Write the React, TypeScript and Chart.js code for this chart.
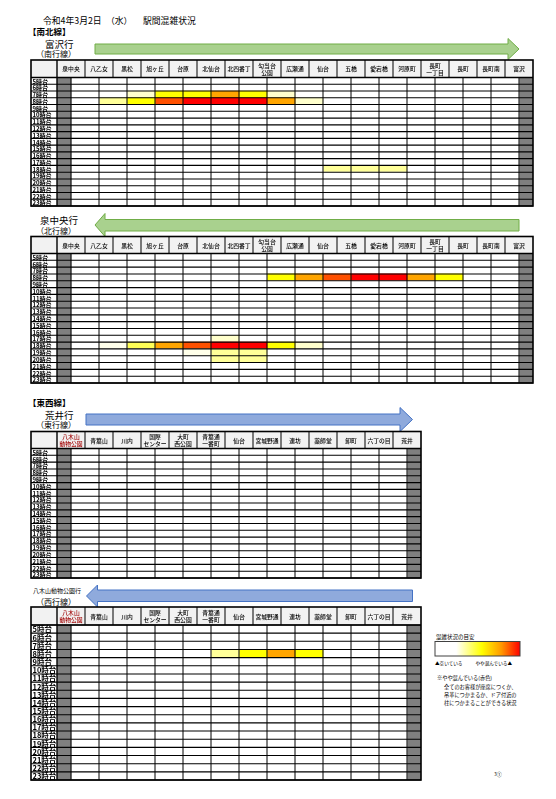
import React, { useEffect, useRef } from 'react';
import { Chart, registerables } from 'chart.js';
Chart.register(...registerables);

const FONT = '"Noto Sans CJK JP", "Noto Sans", sans-serif';

const HOURS = ['5時台','6時台','7時台','8時台','9時台','10時台','11時台','12時台','13時台','14時台','15時台','16時台','17時台','18時台','19時台','20時台','21時台','22時台','23時台'];

const NS_STATIONS = ['泉中央','八乙女','黒松','旭ヶ丘','台原','北仙台','北四番丁','勾当台\n公園','広瀬通','仙台','五橋','愛宕橋','河原町','長町\n一丁目','長町','長町南','富沢'];
const TZ_STATIONS = ['八木山\n動物公園','青葉山','川内','国際\nセンター','大町\n西公園','青葉通\n一番町','仙台','宮城野通','連坊','薬師堂','卸町','六丁の目','荒井'];

// congestion level -> colour (0 = empty, 8 = most crowded)
const PALETTE = ['#FFFFFF','#FFFFEA','#FFFFCC','#FFFF99','#FFFF55','#FFFF00','#FFA500','#FF5000','#FF0000'];

// 南北線 富沢行（南行線）: level per station interval
const SOUTH_HOURS = ['7時台','8時台','18時台'];
const SOUTH_7 = [0,0,2,5,5,6,5,2,0,0,0,0,0,0,0,0];
const SOUTH_8 = [0,3,5,7,8,8,8,6,2,0,0,0,0,0,0,0];
const SOUTH_18 = [0,0,0,0,0,0,0,0,0,3,3,3,0,0,0,0];

// 南北線 泉中央行（北行線）
const NORTH_HOURS = ['8時台','17時台','18時台','19時台','20時台'];
const NORTH_8 = [0,0,0,0,0,0,0,5,6,7,8,8,6,5,0,0];
const NORTH_17 = [0,0,0,0,0,2,0,0,0,0,0,0,0,0,0,0];
const NORTH_18 = [0,1,4,6,7,8,8,5,2,0,0,0,0,0,0,0];
const NORTH_19 = [0,0,0,0,1,3,3,0,0,0,0,0,0,0,0,0];
const NORTH_20 = [0,0,0,0,0,3,3,0,0,0,0,0,0,0,0,0];

// 東西線 荒井行（東行線）
const EAST_HOURS: string[] = [];

// 東西線 八木山動物公園行（西行線）
const WEST_HOURS = ['8時台'];
const WEST_8 = [0,0,0,0,0,3,5,6,5,0,0,0];

function buildLevels(nIntervals: number, hours: string[], rows: number[][]) {
  return HOURS.map((h) => {
    const k = hours.indexOf(h);
    return k >= 0 ? rows[k] : new Array(nIntervals).fill(0);
  });
}

const COL = 28;
const LABEL = 26;
const TABLE_LEFT = 31;

type TableProps = {
  top: number;
  headerBottom: number;
  bottom: number;
  stations: string[];
  levels: number[][];
  hourFont: number;
  firstStationColor?: string;
};

function HeatTable(p: TableProps) {
  const ref = useRef<HTMLCanvasElement>(null);
  const n = p.stations.length;
  const canvasLeft = TABLE_LEFT - 2;
  const canvasTop = Math.floor(p.top) - 2;
  const width = 2 + LABEL + COL * n + 3;
  const height = Math.ceil(p.bottom) + 3 - canvasTop;
  const padTop = p.headerBottom - canvasTop;
  const padBottom = canvasTop + height - p.bottom;
  const headerH = p.headerBottom - p.top;

  useEffect(() => {
    const canvas = ref.current!;
    const datasets: any[] = [];
    const common = { grouped: false, barPercentage: 1, categoryPercentage: 1, borderWidth: 0, borderSkipped: false };
    datasets.push({ ...common, data: HOURS.map(() => [0, 0.5]), backgroundColor: '#7F7F7F' });
    for (let i = 0; i < n - 1; i++) {
      datasets.push({
        ...common,
        data: HOURS.map(() => [i + 0.5, i + 1.5]),
        backgroundColor: p.levels.map((r) => PALETTE[r[i]]),
      });
    }
    datasets.push({ ...common, data: HOURS.map(() => [n - 0.5, n]), backgroundColor: '#7F7F7F' });

    const plugin = {
      id: 'tableGrid',
      beforeDatasetsDraw(chart: any) {
        const ctx = chart.ctx;
        const a = chart.chartArea;
        const tl = a.left - LABEL;
        const ht = a.top - headerH;
        ctx.save();
        ctx.fillStyle = '#F2F2F2';
        ctx.fillRect(tl, ht, a.right - tl, headerH);
        ctx.restore();
      },
      afterDatasetsDraw(chart: any) {
        const ctx = chart.ctx;
        const xs = chart.scales.x;
        const ys = chart.scales.y;
        const a = chart.chartArea;
        const tl = a.left - LABEL;
        const ht = a.top - headerH;
        const half = (ys.getPixelForValue(1) - ys.getPixelForValue(0)) / 2;
        const line = (x1: number, y1: number, x2: number, y2: number) => {
          ctx.beginPath();
          ctx.moveTo(x1, y1);
          ctx.lineTo(x2, y2);
          ctx.stroke();
        };
        ctx.save();
        ctx.strokeStyle = '#000';
        ctx.lineWidth = 1.1;
        for (let k = 0; k <= HOURS.length; k++) {
          const y = k < HOURS.length ? ys.getPixelForValue(k) - half : ys.getPixelForValue(k - 1) + half;
          line(tl, y, a.right, y);
        }
        ctx.lineWidth = 1;
        for (let j = 0; j < n; j++) {
          const x = xs.getPixelForValue(j + 0.5);
          line(x, a.top, x, a.bottom);
        }
        for (let j = 1; j < n; j++) {
          const x = xs.getPixelForValue(j);
          line(x, ht, x, a.top);
        }
        ctx.lineWidth = 1.4;
        const x0 = xs.getPixelForValue(0);
        line(x0, ht, x0, a.bottom);
        line(tl, a.top, a.right, a.top);
        ctx.lineWidth = 1.6;
        ctx.strokeRect(tl, ht, xs.getPixelForValue(n) - tl, a.bottom - ht);

        ctx.textAlign = 'center';
        ctx.textBaseline = 'middle';
        ctx.font = `500 5.8px ${FONT}`;
        const hc = ht + headerH / 2;
        p.stations.forEach((s, j) => {
          const x = xs.getPixelForValue(j + 0.5);
          const parts = s.split('\n');
          ctx.fillStyle = j === 0 && p.firstStationColor ? p.firstStationColor : '#000';
          if (parts.length === 1) {
            ctx.fillText(parts[0], x, hc + 0.5);
          } else {
            ctx.fillText(parts[0], x, hc - 3);
            ctx.fillText(parts[1], x, hc + 4);
          }
        });
        ctx.textAlign = 'left';
        ctx.fillStyle = '#000';
        ctx.font = `bold ${p.hourFont}px ${FONT}`;
        HOURS.forEach((h, i) => {
          ctx.fillText(h, tl + 1.5, ys.getPixelForValue(i) + 0.5);
        });
        ctx.restore();
      },
    };

    const chart = new Chart(canvas, {
      type: 'bar',
      data: { labels: HOURS, datasets },
      options: {
        indexAxis: 'y',
        responsive: false,
        maintainAspectRatio: false,
        animation: false,
        devicePixelRatio: 1,
        layout: { padding: { left: 2 + LABEL, right: 3, top: padTop, bottom: padBottom } },
        plugins: { legend: { display: false }, tooltip: { enabled: false }, title: { display: false } },
        scales: {
          x: { type: 'linear', min: 0, max: n, display: false },
          y: { type: 'category', offset: true, display: false },
        },
      } as any,
      plugins: [plugin],
    });
    return () => chart.destroy();
  }, []);

  return (
    <canvas
      ref={ref}
      width={width}
      height={height}
      style={{ position: 'absolute', left: canvasLeft, top: canvasTop, width, height }}
    />
  );
}

function T(props: { x: number; y: number; s: number; w?: number; fill?: string; anchor?: string; children: React.ReactNode }) {
  return (
    <text
      x={props.x}
      y={props.y}
      fontSize={props.s}
      fontWeight={props.w || 400}
      fill={props.fill || '#000'}
      fontFamily={FONT}
      dominantBaseline="central"
      textAnchor={props.anchor || 'start'}
    >
      {props.children}
    </text>
  );
}

export default function App() {
  const southLevels = buildLevels(16, SOUTH_HOURS, [SOUTH_7, SOUTH_8, SOUTH_18]);
  const northLevels = buildLevels(16, NORTH_HOURS, [NORTH_8, NORTH_17, NORTH_18, NORTH_19, NORTH_20]);
  const eastLevels = buildLevels(12, EAST_HOURS, []);
  const westLevels = buildLevels(12, WEST_HOURS, [WEST_8]);

  return (
    <div style={{ position: 'absolute', left: 0, top: 0, width: 556, height: 799, background: '#fff', overflow: 'hidden' }}>
      <svg width={556} height={799} style={{ position: 'absolute', left: 0, top: 0 }}>
        <defs>
          <linearGradient id="cong" x1="0" x2="1" y1="0" y2="0">
            <stop offset="0" stopColor="#FFFFFF" />
            <stop offset="0.25" stopColor="#FFFFFF" />
            <stop offset="0.55" stopColor="#FFFF00" />
            <stop offset="0.78" stopColor="#FF9900" />
            <stop offset="1" stopColor="#FF0000" />
          </linearGradient>
        </defs>
        <T x={43} y={20} s={8.8}>令和4年3月2日</T>
        <T x={106} y={20} s={8.8}>（水）</T>
        <T x={143} y={20} s={8.8}>駅間混雑状況</T>

        <T x={28} y={31} s={8.5} w={700}>【南北線】</T>
        <T x={45} y={43.5} s={9.5}>富沢行</T>
        <T x={36} y={53} s={8}>（南行線）</T>
        <path d="M95,44 L508,44 L508,38.5 L519,49 L508,59.5 L508,54 L95,54 Z" fill="#A9D18E" stroke="#70AD47" strokeWidth={1} />

        <T x={40} y={220} s={9.5}>泉中央行</T>
        <T x={36} y={230} s={8}>（北行線）</T>
        <path d="M95,225 L105,213.5 L105,219.5 L519,219.5 L519,231 L105,231 L105,236.5 Z" fill="#A9D18E" stroke="#70AD47" strokeWidth={1} />

        <T x={28} y={401.5} s={8.5} w={700}>【東西線】</T>
        <T x={45} y={415} s={9.5}>荒井行</T>
        <T x={36} y={424.5} s={8}>（東行線）</T>
        <path d="M86,414 L400,414 L400,407.5 L412.5,419.5 L400,431.5 L400,425 L86,425 Z" fill="#8FAADC" stroke="#4472C4" strokeWidth={1} />

        <T x={33} y={590.5} s={6}>八木山動物公園行</T>
        <T x={36} y={601} s={8}>（西行線）</T>
        <path d="M86.5,596 L97.5,585 L97.5,590 L412.5,590 L412.5,601.5 L97.5,601.5 L97.5,607 Z" fill="#8FAADC" stroke="#4472C4" strokeWidth={1} />

        <T x={436} y={636.5} s={5.5}>混雑状況の目安</T>
        <rect x={435} y={641.5} width={85} height={14.5} fill="url(#cong)" stroke="#404040" strokeWidth={1} />
        <T x={435} y={663} s={4.6}>▲空いている</T>
        <T x={512} y={663} s={4.6} anchor="end">やや混んでいる▲</T>
        <T x={437} y={677.5} s={5.2}>※やや混んでいる(赤色)</T>
        <T x={444} y={686} s={5.2}>全てのお客様が座席につくか、</T>
        <T x={444} y={694} s={5.2}>吊革につかまるか、ドア付近の</T>
        <T x={444} y={702} s={5.2}>柱につかまることができる状況</T>

        <T x={494} y={773} s={5}>3①</T>
      </svg>

      <HeatTable top={60} headerBottom={77.5} bottom={206} stations={NS_STATIONS} levels={southLevels} hourFont={6} />
      <HeatTable top={236.5} headerBottom={253.5} bottom={383} stations={NS_STATIONS} levels={northLevels} hourFont={6} />
      <HeatTable top={431.5} headerBottom={448.5} bottom={578} stations={TZ_STATIONS} levels={eastLevels} hourFont={6} firstStationColor="#A00000" />
      <HeatTable top={607} headerBottom={625} bottom={780} stations={TZ_STATIONS} levels={westLevels} hourFont={7.5} firstStationColor="#A00000" />
    </div>
  );
}
